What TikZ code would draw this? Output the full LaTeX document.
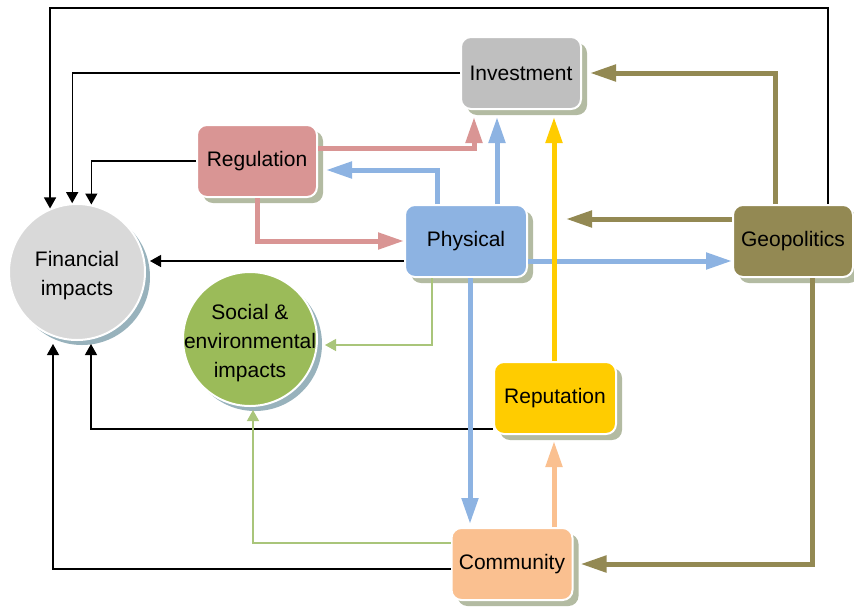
\documentclass[tikz,border=0pt]{standalone}
\usepackage{fontspec}
\setmainfont{Liberation Sans}
\usetikzlibrary{arrows.meta,shadows}

\definecolor{invfill}{HTML}{BFBFBF}
\definecolor{regfill}{HTML}{D99594}
\definecolor{physfill}{HTML}{8DB3E2}
\definecolor{geofill}{HTML}{938953}
\definecolor{repfill}{HTML}{FFCC00}
\definecolor{comfill}{HTML}{FAC090}
\definecolor{finfill}{HTML}{D9D9D9}
\definecolor{socfill}{HTML}{9BBB59}
\definecolor{boxshade}{HTML}{B3BBA2}
\definecolor{discshade}{HTML}{98B2BC}
\definecolor{thingreen}{HTML}{A9C57A}

\tikzset{
  label font/.style={font=\fontsize{21}{29}\selectfont, text=black},
  factor/.style={label font, rectangle, rounded corners=10pt,
    minimum width=120pt, minimum height=72pt, draw=white, line width=2pt,
    drop shadow={shadow xshift=6pt, shadow yshift=-6pt, fill=boxshade, opacity=1}},
  impact/.style={circle, draw=white, line width=2pt, inner sep=0pt,
    drop shadow={shadow xshift=5pt, shadow yshift=-5pt, fill=discshade, opacity=1}},
  impact text/.style={label font, align=center},
  thinlink/.style={line width=1.3pt, -{Triangle[length=11pt,width=12pt]}},
  blk/.style={thinlink, draw=black},
  grn/.style={thinlink, draw=thingreen},
  thick link/.style={line width=5pt, -{Triangle[length=26pt,width=16pt]}},
}

\begin{document}
\begin{tikzpicture}[x=1pt, y=-1pt]
  \useasboundingbox (0,0) rectangle (854,606);

  % driver boxes
  \node[factor, fill=invfill]  (inv)  at (521,73)  {Investment};
  \node[factor, fill=regfill]  (reg)  at (257,161) {Regulation};
  \node[factor, fill=physfill, minimum width=122pt] (phys) at (466,241) {Physical};
  \node[factor, fill=geofill]  (geo)  at (793,241) {Geopolitics};
  \node[factor, fill=repfill, minimum width=122pt]  (rep)  at (555,398) {Reputation};
  \node[factor, fill=comfill, minimum width=121pt]  (com)  at (512,564) {Community};

  % impact discs and their captions
  \node[impact, fill=finfill, minimum size=136pt] (fin) at (77,272) {};
  \node[impact text] (finText) at (77,276) {Financial\\impacts};
  \node[impact, fill=socfill, minimum size=134pt] (soc) at (250,339) {};
  \node[impact text] (socText) at (250,343) {Social \&\\environmental\\impacts};

  % landing points on the discs
  \path (fin.center) ++(73,-11) coordinate (finE);
  \path (fin.center) ++(14,72)  coordinate (finB1);
  \path (fin.center) ++(-24,72) coordinate (finB2);
  \path (soc.center) ++(75,6)   coordinate (socE);
  \path (soc.center) ++(3,71)   coordinate (socS);

  % thin black links into financial impacts
  \draw[blk] ([xshift=35pt]geo.north) -- ++(0,-196) -| (fin.113);
  \draw[blk] (inv.west) -| (fin.94);
  \draw[blk] (reg.west) -| (fin.78);
  \draw[blk] ([yshift=-20pt]phys.west) -- (finE);
  \draw[blk] ([yshift=-31pt]rep.west) -| (finB1);
  \draw[blk] ([yshift=-5pt]com.west) -| (finB2);

  % thin green links into social & environmental impacts
  \draw[grn] ([xshift=-34pt]phys.south) |- (socE);
  \draw[grn] ([yshift=21pt]com.west) -| (socS);

  % regulation
  \draw[thick link, draw=regfill] (reg.south) |- (phys.west);
  \draw[thick link, draw=regfill]
    ([yshift=13pt]reg.east) -| ([xshift=-47pt,yshift=-7pt]inv.south);

  % physical
  \draw[thick link, draw=physfill]
    ([xshift=-29pt]phys.north) |- ([xshift=8pt,yshift=-9pt]reg.east);
  \draw[thick link, draw=physfill]
    ([xshift=31pt]phys.north) -- ([xshift=-24pt,yshift=-7pt]inv.south);
  \draw[thick link, draw=physfill]
    ([yshift=-20pt]phys.east) -- ([yshift=-20pt]geo.west);
  \draw[thick link, draw=physfill]
    ([xshift=4pt]phys.south) -- ([xshift=-42pt,yshift=3pt]com.north);

  % reputation and community
  \draw[thick link, draw=repfill]
    ([xshift=-1pt]rep.north) -- ([xshift=33pt,yshift=-7pt]inv.south);
  \draw[thick link, draw=comfill]
    ([xshift=42pt]com.north) -- ([xshift=-1pt,yshift=-6pt]rep.south);

  % geopolitics
  \draw[thick link, draw=geofill]
    ([xshift=-18pt]geo.north) |- ([xshift=8pt]inv.east);
  \draw[thick link, draw=geofill]
    ([yshift=22pt]geo.west) -- ++(-166,0);
  \draw[thick link, draw=geofill]
    ([xshift=19pt]geo.south) |- ([xshift=7pt]com.east);
\end{tikzpicture}
\end{document}
